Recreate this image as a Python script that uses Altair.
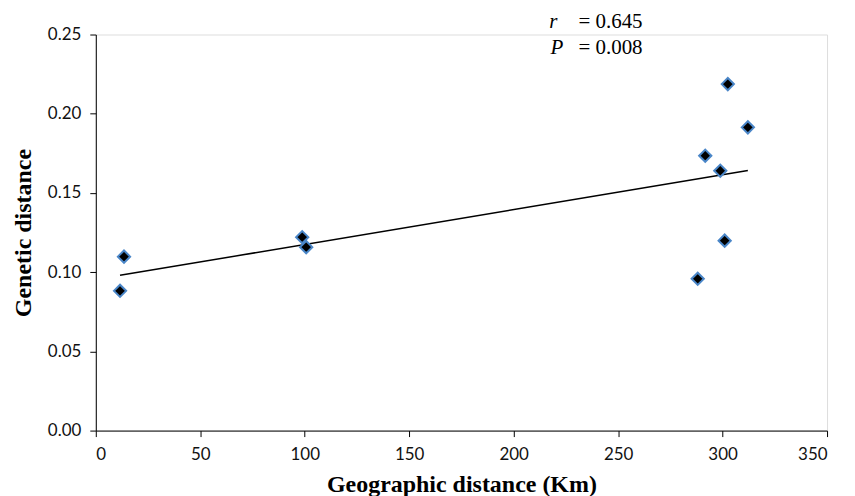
import altair as alt
import pandas as pd

# Data
geo_km = [11.6, 13.5, 98.8, 100.7, 288.1, 291.7, 298.9, 301.0, 302.5, 312.1]
gen_dist = [0.0882, 0.1098, 0.1221, 0.1158, 0.0958, 0.1735, 0.1640, 0.1199, 0.2187, 0.1914]

x_ticks = [0, 50, 100, 150, 200, 250, 300, 350]
y_ticks = [0.0, 0.05, 0.10, 0.15, 0.20, 0.25]

ann_sym = ["r", "P"]
ann_rest = ["= 0.645", "= 0.008"]
ann_sym_x = [217.0, 217.6]
ann_rest_x = [231.0, 231.0]
ann_y = [0.2544, 0.2380]

df = pd.DataFrame({"geo": geo_km, "gen": gen_dist})
ann = pd.DataFrame({"sym": ann_sym, "rest": ann_rest, "sx": ann_sym_x,
                    "rx": ann_rest_x, "y": ann_y})

xscale = alt.Scale(domain=[0, 350], nice=False, zero=True)
yscale = alt.Scale(domain=[0, 0.25], nice=False)

xaxis = alt.Axis(values=x_ticks, format="d", title="Geographic distance (Km)",
                 grid=False, domainColor="black", tickColor="black", tickSize=6,
                 labelFont="Lato", labelFontSize=17, labelColor="#111", labelPadding=10,
                 titleFont="Liberation Serif", titleFontWeight="bold", titleFontSize=24,
                 titleColor="black", titlePadding=10)
yaxis = alt.Axis(values=y_ticks, format=".2f", title="Genetic distance",
                 grid=False, domainColor="black", tickColor="black", tickSize=6,
                 labelFont="Lato", labelFontSize=17, labelColor="#111", labelPadding=9,
                 titleFont="Liberation Serif", titleFontWeight="bold", titleFontSize=24,
                 titleColor="black", titlePadding=12)

base = alt.Chart(df)

points = base.mark_point(shape="diamond", filled=True, fill="black", stroke="#4a86c8",
                         strokeWidth=2, size=150, opacity=1).encode(
    x=alt.X("geo:Q", scale=xscale, axis=xaxis),
    y=alt.Y("gen:Q", scale=yscale, axis=yaxis),
)

trend = base.transform_regression("geo", "gen").mark_line(color="black", strokeWidth=1.5).encode(
    x=alt.X("geo:Q", scale=xscale),
    y=alt.Y("gen:Q", scale=yscale),
)

annb = alt.Chart(ann)
sym = annb.mark_text(font="Liberation Serif", fontSize=21, fontStyle="italic",
                     align="left", baseline="alphabetic", color="black").encode(
    x=alt.X("sx:Q", scale=xscale), y=alt.Y("y:Q", scale=yscale), text="sym:N")
rest = annb.mark_text(font="Liberation Serif", fontSize=21, align="left",
                      baseline="alphabetic", color="black").encode(
    x=alt.X("rx:Q", scale=xscale), y=alt.Y("y:Q", scale=yscale), text="rest:N")

chart = alt.layer(trend, points, sym, rest).properties(
    width=733, height=397,
    autosize=alt.AutoSizeParams(type="none"),
    padding={"left": 88, "top": 26, "right": 20, "bottom": 72},
).configure_view(stroke=None).configure(background="white")

chart.save("out.html", embed_options={"renderer": "svg", "actions": False})
